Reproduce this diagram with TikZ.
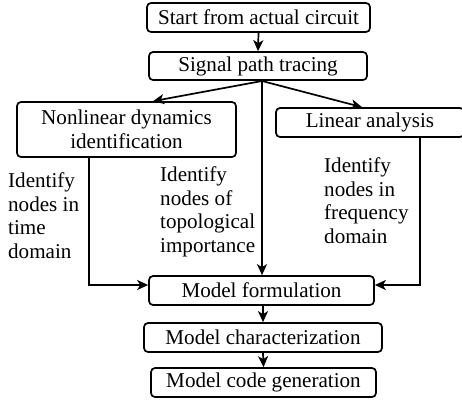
\documentclass[tikz,border=0pt]{standalone}
\usepackage{fontspec}
\setmainfont{Liberation Serif}
\usetikzlibrary{arrows.meta}
\begin{document}
\begin{tikzpicture}[x=1pt,y=-1pt,
  box/.style={draw,line width=1.7pt,rounded corners=4pt,inner sep=0pt,align=center,
    font=\fontsize{21.1}{23.7}\selectfont},
  lbl/.style={inner sep=0pt,align=left,anchor=north west,font=\fontsize{21.1}{23.7}\selectfont},
  arr/.style={line width=1.7pt,-{Stealth[length=11pt,width=10pt,inset=3pt]}},
  ln/.style={line width=1.7pt}]
\useasboundingbox (0,0) rectangle (462,399);
\node[box,minimum width=223pt,minimum height=29pt] (start) at (258.5,17.5) {Start from actual circuit};
\node[box,minimum width=218pt,minimum height=28pt] (sig) at (258,66) {Signal path tracing};
\node[box,minimum width=219pt,minimum height=55pt] (nl) at (126.5,129.5) {Nonlinear dynamics\\identification};
\node[box,minimum width=188pt,minimum height=29pt] (lin) at (370,122.5) {Linear analysis};
\node[box,minimum width=225pt,minimum height=29pt] (form) at (261.5,290.5) {Model formulation};
\node[box,minimum width=238pt,minimum height=29pt] (char) at (263,337.5) {Model characterization};
\node[box,minimum width=225pt,minimum height=29pt] (code) at (263.5,382.5) {Model code generation};

\node[lbl] (t1) at (8,172.5) {Identify\\nodes in\\time\\domain};
\node[lbl] (t2) at (160,166.5) {Identify\\nodes of\\topological\\importance};
\node[lbl] (t3) at (324,157.5) {Identify\\nodes in\\frequency\\domain};

\coordinate (lbend) at (89,285);
\coordinate (rbend) at (420,285);
\coordinate (split) at (262,81);
\coordinate (nlin) at (153,0);
\coordinate (linin) at (362,0);

\draw[arr] (start.south) -- (sig.north);
\draw[arr] (split) -- (nl.north -| nlin);
\draw[arr] (split) -- (lin.north -| linin);
\draw[arr] (split) -- (form.north -| split);
\draw[arr] (nl.south -| lbend) |- (form.west |- lbend);
\draw[arr] (lin.south -| rbend) |- (form.east |- rbend);
\draw[arr] (form.south -| char.north) -- (char.north);
\draw[arr] (char.south) -- (code.north);
\end{tikzpicture}
\end{document}
